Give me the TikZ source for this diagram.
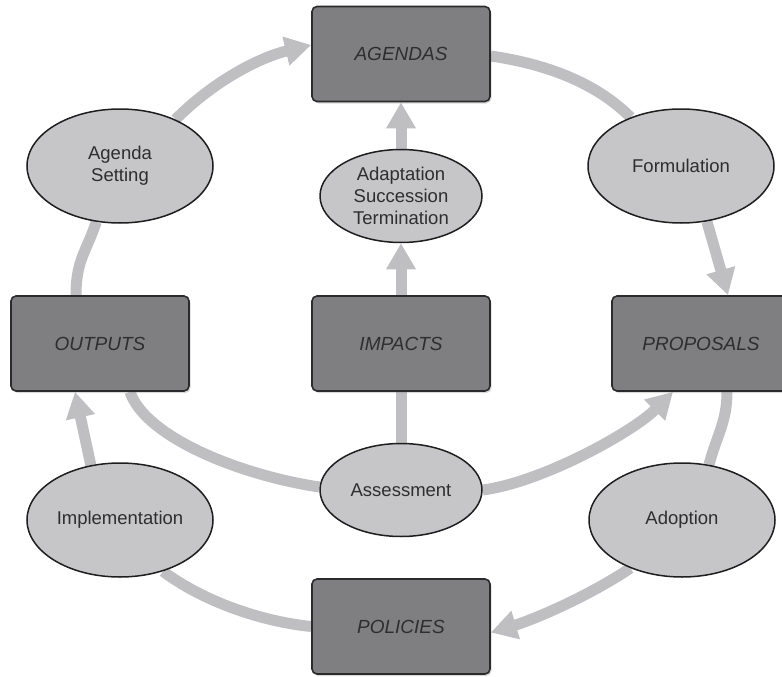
\documentclass[tikz,border=0pt]{standalone}
\usepackage{fontspec}
\setmainfont{Liberation Sans}
\usetikzlibrary{shapes.geometric,arrows.meta,shadows}
\pgfdeclarelayer{bg}
\pgfsetlayers{bg,main}
\definecolor{boxfill}{HTML}{7F7F82}
\definecolor{boxline}{HTML}{2B2B2B}
\definecolor{ovalfill}{HTML}{C6C6C9}
\definecolor{ovalline}{HTML}{1E1E1E}
\definecolor{flow}{HTML}{BFBFC2}
\definecolor{ink}{HTML}{2E2E2E}

\begin{document}
\begin{tikzpicture}[x=1pt,y=-1pt,
  stage/.style={draw=boxline, line width=1.6pt, fill=boxfill, rounded corners=5pt,
    minimum width=178pt, minimum height=95pt, inner sep=0pt, text=ink,
    font=\fontsize{19}{22}\selectfont\itshape,
    drop shadow={shadow xshift=1.5pt, shadow yshift=-2pt, opacity=0.3}},
  activity/.style={ellipse, draw=ovalline, line width=1.5pt, fill=ovalfill,
    inner sep=0pt, text=ink, align=center, font=\fontsize{18.5}{21.7}\selectfont},
  bigoval/.style={activity, minimum width=186pt, minimum height=114pt},
  smalloval/.style={activity, minimum width=162pt, minimum height=93pt},
  flowline/.style={draw=flow, line width=11pt},
  flowarrow/.style={flowline, -{Triangle[length=26pt,width=28pt]}},
]
\useasboundingbox (0,0) rectangle (782,677);
\clip (0,0) rectangle (782,677);

% stages of the cycle
\node[stage] (agendas)   at (401,54)    {AGENDAS};
\node[stage] (outputs)   at (100,343.5) {OUTPUTS};
\node[stage] (impacts)   at (401,343.5) {IMPACTS};
\node[stage] (proposals) at (701,343.5) {PROPOSALS};
\node[stage] (policies)  at (401,626.5) {POLICIES};

% activities between stages
\node[bigoval]   (agset)  at (120,166) {Agenda\\Setting};
\node[smalloval] (adapt)  at (401,196) {Adaptation\\Succession\\Termination};
\node[bigoval]   (form)   at (681,166) {Formulation};
\node[bigoval]   (impl)   at (120,520) {Implementation};
\node[smalloval] (assess) at (401,490) {Assessment};
\node[bigoval]   (adopt)  at (682,520) {Adoption};

% flow of the cycle, kept behind the shapes
\begin{pgfonlayer}{bg}
\draw[flowline]  ([xshift=-24pt]outputs.north) .. controls +(0,-35) and +(-10,30) .. (agset.247);
\draw[flowarrow] (agset.40) .. controls +(40,-40) and +(-50,12) .. ([yshift=9pt]agendas.west);
\draw[flowline]  ([yshift=-2pt]agendas.east) .. controls +(55,8) and +(-35,-35) .. (form.136);
\draw[flowarrow] (form.295) -- ([xshift=27pt]proposals.north);
\draw[flowline]  ([xshift=26pt]proposals.south) .. controls +(0,30) and +(8,-30) .. (adopt.64);
\draw[flowarrow] (adopt.223) .. controls +(-45,30) and +(40,-12) .. ([yshift=-6pt]policies.east);
\draw[flowline]  (policies.west) .. controls +(-50,-5) and +(40,30) .. (impl.310);
\draw[flowarrow] (impl.118) -- ([xshift=-25pt]outputs.south);
\draw[flowarrow] (adapt.north) -- (agendas.south);
\draw[flowarrow] (impacts.north) -- (adapt.south);
\draw[flowline]  (impacts.south) -- (assess.north);
\draw[flowline]  ([xshift=30pt]outputs.south) .. controls +(15,45) and +(-80,-12) .. ([yshift=3pt]assess.west);
\draw[flowarrow] (assess.east) .. controls +(60,-8) and +(-40,40) .. ([xshift=-28pt]proposals.south);
\end{pgfonlayer}
\end{tikzpicture}
\end{document}
